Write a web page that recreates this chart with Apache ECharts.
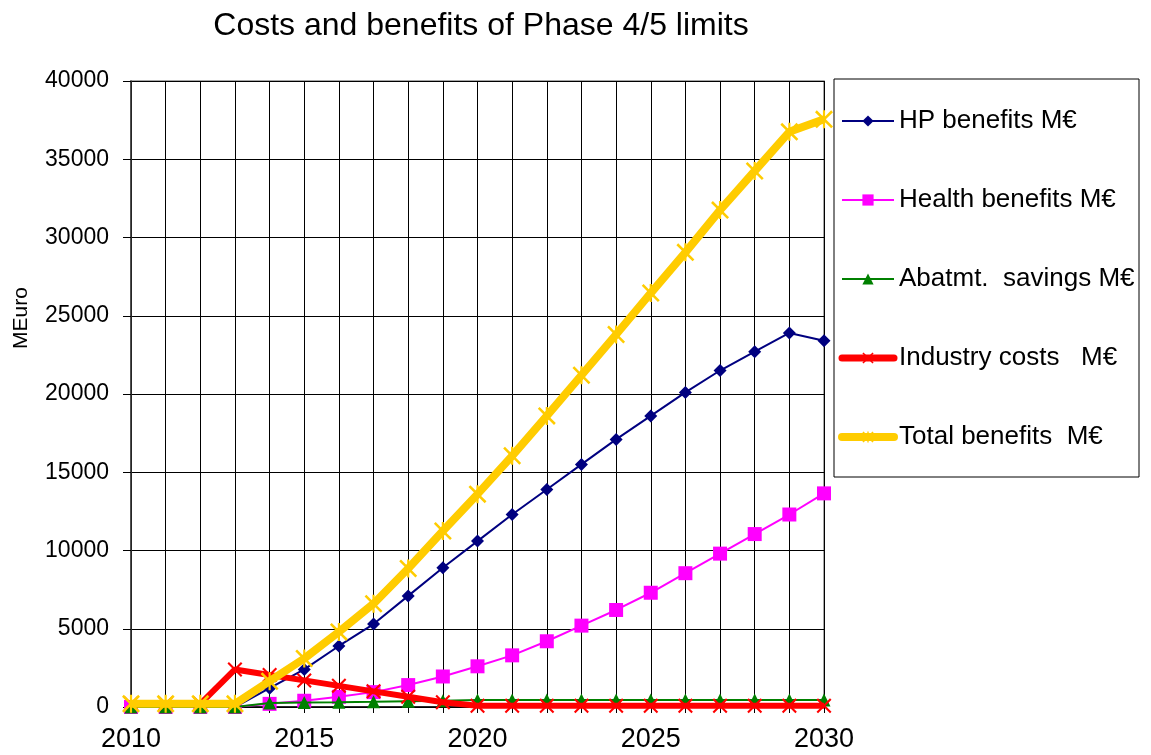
<!DOCTYPE html>
<html>
<head>
<meta charset="utf-8">
<script src="https://cdn.jsdelivr.net/npm/echarts@6/dist/echarts.min.js"></script>
<style>
html,body{margin:0;padding:0;background:#fff;}
#chart{width:1151px;height:755px;}
</style>
</head>
<body>
<div id="chart"></div>
<script>
const years = ['2010','2011','2012','2013','2014','2015','2016','2017','2018','2019','2020','2021','2022','2023','2024','2025','2026','2027','2028','2029','2030'];
const hpBenefits = [0,0,0,0,1200,2400,3900,5300,7100,8900,10600,12300,13900,15500,17100,18600,20100,21500,22700,23900,23400];
const healthBenefits = [0,0,0,0,200,400,650,950,1400,1950,2600,3300,4200,5200,6200,7300,8550,9800,11050,12300,13650];
const abatementSavings = [0,0,0,0,250,280,300,330,370,400,450,450,450,450,450,450,450,450,450,450,450];
const industryCosts = [200,200,200,2400,2050,1700,1350,1000,650,300,80,80,80,80,80,80,80,80,80,80,80];
const totalBenefits = [200,200,200,200,1650,3100,4800,6600,8850,11250,13600,16050,18600,21200,23800,26450,29050,31750,34250,36750,37550];
const seriesNames = ['HP benefits M€','Health benefits M€','Abatmt.  savings M€','Industry costs   M€','Total benefits  M€'];

const FONT = 'Liberation Sans, Arial, sans-serif';
const xSymbol = 'path://M0,1L1,0L5,4L9,0L10,1L6,5L10,9L9,10L5,6L1,10L0,9L4,5Z';
const starSymbol = 'path://M0,1L1,0L5,4L9,0L10,1L6,5L10,9L9,10L5,6L1,10L0,9L4,5Z M4.4,0L5.6,0L5.6,10L4.4,10Z';

const chart = echarts.init(document.getElementById('chart'));
chart.setOption({
  animation: false,
  backgroundColor: '#fff',
  title: {
    text: 'Costs and benefits of Phase 4/5 limits',
    left: 476, top: 5, textAlign: 'center',
    textStyle: {fontFamily: FONT, fontSize: 32, fontWeight: 'normal', color: '#000'}
  },
  grid: {left: 131, right: 327, top: 81, bottom: 48, show: true, borderColor: '#8a8a8a', borderWidth: 1.5},
  legend: {
    orient: 'vertical', left: 838, top: 108, padding: 0,
    itemWidth: 52, itemHeight: 14, itemGap: 53,
    textStyle: {fontFamily: FONT, fontSize: 26, color: '#000'},
    data: [
      {name: seriesNames[0], lineStyle: {width: 2}},
      {name: seriesNames[1], lineStyle: {width: 2}},
      {name: seriesNames[2], lineStyle: {width: 2}},
      {name: seriesNames[3], lineStyle: {width: 7, cap: 'round'}},
      {name: seriesNames[4], lineStyle: {width: 8, cap: 'round'}}
    ]
  },
  graphic: [
    {type: 'rect', shape: {x: 834, y: 79, width: 305, height: 398}, style: {fill: 'none', stroke: '#000', lineWidth: 1}, silent: true},
    {type: 'text', x: 21, y: 318, rotation: Math.PI / 2,
     style: {text: 'MEuro', font: '21px ' + FONT, fill: '#000', textAlign: 'center', textVerticalAlign: 'middle'}}
  ],
  xAxis: {
    type: 'category', data: years, boundaryGap: false,
    axisLine: {lineStyle: {color: '#000', width: 1.5}},
    axisTick: {show: true, interval: 0, length: 6, lineStyle: {color: '#000'}},
    axisLabel: {interval: 4, margin: 19, fontFamily: FONT, fontSize: 27, color: '#000'},
    splitLine: {show: true, interval: 0, lineStyle: {color: '#000', width: 1}}
  },
  yAxis: {
    type: 'value', min: 0, max: 40000, interval: 5000,
    axisLine: {show: true, lineStyle: {color: '#333', width: 1.5}},
    axisTick: {show: true, length: 8, lineStyle: {color: '#000'}},
    axisLabel: {margin: 22, fontFamily: FONT, fontSize: 23, color: '#000', formatter: function (v) { return String(v); }},
    splitLine: {show: true, lineStyle: {color: '#000', width: 1}}
  },
  series: [
    {name: seriesNames[0], type: 'line', data: hpBenefits, color: '#000080',
     lineStyle: {width: 2}, symbol: 'diamond', symbolSize: 13, showAllSymbol: true, z: 2},
    {name: seriesNames[1], type: 'line', data: healthBenefits, color: '#FF00FF',
     lineStyle: {width: 2}, symbol: 'rect', symbolSize: 14, showAllSymbol: true, z: 3},
    {name: seriesNames[2], type: 'line', data: abatementSavings, color: '#008000',
     lineStyle: {width: 2}, symbol: 'triangle', symbolSize: 13, showAllSymbol: true, z: 4},
    {name: seriesNames[3], type: 'line', data: industryCosts, color: '#FF0000',
     lineStyle: {width: 6}, symbol: xSymbol, symbolSize: 15, showAllSymbol: true, z: 5},
    {name: seriesNames[4], type: 'line', data: totalBenefits, color: '#FFCC00',
     lineStyle: {width: 8}, symbol: starSymbol, symbolSize: 18, showAllSymbol: true, z: 6}
  ]
});
</script>
</body>
</html>
